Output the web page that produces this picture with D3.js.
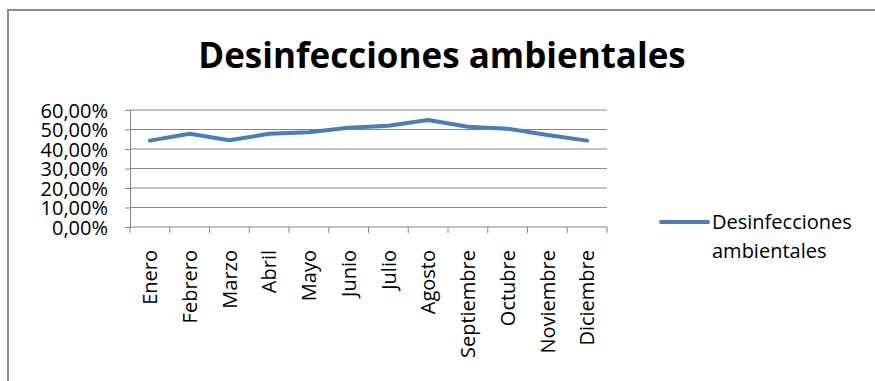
<!DOCTYPE html>
<html>
<head>
<meta charset="utf-8">
<title>Desinfecciones ambientales</title>
<script src="https://d3js.org/d3.v7.min.js"></script>
<style>
  body { margin: 0; background: #fff; }
  text { font-family: "Open Sans", sans-serif; fill: #000; }
</style>
</head>
<body>
<div id="chart"></div>
<script>
// data
var months = ["Enero", "Febrero", "Marzo", "Abril", "Mayo", "Junio", "Julio",
              "Agosto", "Septiembre", "Octubre", "Noviembre", "Diciembre"];
var values = [0.443, 0.478, 0.445, 0.478, 0.486, 0.509, 0.519, 0.549, 0.514, 0.504, 0.472, 0.443];
var yTicks = [0, 0.1, 0.2, 0.3, 0.4, 0.5, 0.6];
var seriesName = "Desinfecciones ambientales";

var W = 875, H = 381;
var plot = {left: 130, right: 607, top: 110, bottom: 227};

var svg = d3.select("#chart").append("svg")
    .attr("width", W)
    .attr("height", H);

// chart frame (cut off at right and bottom like the screenshot)
svg.append("rect")
    .attr("x", 8).attr("y", 10)
    .attr("width", W + 20).attr("height", H + 20)
    .attr("fill", "#fff")
    .attr("stroke", "#8c8c8c")
    .attr("stroke-width", 2);

// title
svg.append("text")
    .attr("x", 442).attr("y", 68)
    .attr("text-anchor", "middle")
    .style("font-size", "35px")
    .style("font-weight", "bold")
    .text("Desinfecciones ambientales");

var x = d3.scaleBand()
    .domain(months)
    .range([plot.left, plot.right]);

var y = d3.scaleLinear()
    .domain([0, 0.6])
    .range([plot.bottom, plot.top]);

var fmt = function(d) { return d3.format(".2f")(d * 100).replace(".", ",") + "%"; };

// gridlines
svg.append("g")
    .selectAll("line")
    .data(yTicks.filter(function(d) { return d > 0; }))
    .enter().append("line")
    .attr("x1", plot.left).attr("x2", plot.right)
    .attr("y1", function(d) { return y(d); })
    .attr("y2", function(d) { return y(d); })
    .attr("stroke", "#868686")
    .attr("stroke-width", 1);

// y axis
var yAxis = svg.append("g")
    .attr("transform", "translate(" + plot.left + ",0)")
    .call(d3.axisLeft(y).tickValues(yTicks).tickFormat(fmt).tickSize(5).tickPadding(17));
yAxis.selectAll("path, line").attr("stroke", "#868686");
yAxis.selectAll("text")
    .style("font-size", "20px")
    .style("font-family", "'Open Sans', sans-serif")
    .attr("fill", "#000")
    .attr("dy", "0.36em");

// x axis: ticks on the band edges
var xAxis = svg.append("g")
    .attr("transform", "translate(0," + plot.bottom + ")");
xAxis.append("line")
    .attr("x1", plot.left).attr("x2", plot.right)
    .attr("stroke", "#868686");
xAxis.selectAll("line.tick")
    .data(months.concat(["end"]))
    .enter().append("line")
    .attr("class", "tick")
    .attr("x1", function(d, i) { return i < months.length ? x(d) : plot.right; })
    .attr("x2", function(d, i) { return i < months.length ? x(d) : plot.right; })
    .attr("y1", 0).attr("y2", 6)
    .attr("stroke", "#868686");
xAxis.selectAll("text")
    .data(months)
    .enter().append("text")
    .attr("transform", function(d) {
        return "translate(" + (x(d) + x.bandwidth() / 2) + ",23) rotate(-90)";
    })
    .attr("text-anchor", "end")
    .attr("dy", "0.36em")
    .style("font-size", "20px")
    .text(function(d) { return d; });

// the line
var line = d3.line()
    .x(function(d, i) { return x(months[i]) + x.bandwidth() / 2; })
    .y(function(d) { return y(d); });

svg.append("path")
    .datum(values)
    .attr("fill", "none")
    .attr("stroke", "#4a7ebb")
    .attr("stroke-width", 4)
    .attr("stroke-linejoin", "round")
    .attr("stroke-linecap", "round")
    .attr("d", line);

// legend
var legend = svg.append("g");
legend.append("line")
    .attr("x1", 661).attr("x2", 708)
    .attr("y1", 222).attr("y2", 222)
    .attr("stroke", "#4a7ebb")
    .attr("stroke-width", 4)
    .attr("stroke-linecap", "round");
legend.append("text")
    .attr("x", 712).attr("y", 229)
    .style("font-size", "20px")
    .selectAll("tspan")
    .data(seriesName.split(" "))
    .enter().append("tspan")
    .attr("x", 712)
    .attr("dy", function(d, i) { return i === 0 ? 0 : 29; })
    .text(function(d) { return d; });
</script>
</body>
</html>
